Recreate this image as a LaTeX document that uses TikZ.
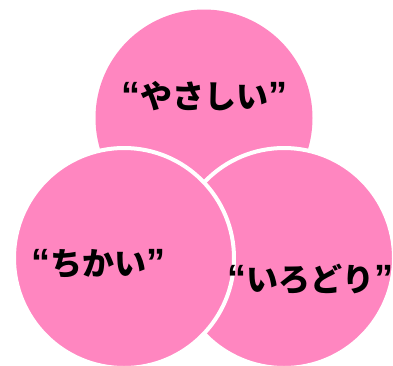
\documentclass[tikz,border=0pt]{standalone}
\usepackage{fontspec}
\newfontfamily\jp{Noto Sans CJK JP}
\newfontfamily\qf{Liberation Sans}
\definecolor{circpink}{RGB}{255,134,192}
\tikzset{
  circ/.style={circle, fill=circpink, inner sep=0pt, minimum size=#1},
  bordered/.style={draw=white, line width=4pt},
  lbl/.style={font=\jp\bfseries\fontsize{32}{36}\selectfont, text=black, inner sep=0pt}
}
\newcommand{\q}[1]{{\qf\bfseries\fontsize{38}{40}\selectfont “}#1{\qf\bfseries\fontsize{38}{40}\selectfont ”}}
\begin{document}
\begin{tikzpicture}[x=1pt,y=-1pt]
  \useasboundingbox (0,0) rectangle (393,365);
  \begin{scope}
  \clip (0,0) rectangle (393,365);
  \node[circ=217pt] (top) at (204,118) {};
  \node[circ=220pt, bordered] (right) at (284,258) {};
  \node[circ=220pt, bordered] (left) at (124,258) {};
  \end{scope}
  \node[lbl] (t1) at (204,96) {\q{やさしい}};
  \node[lbl] (t2) at (98,264) {\q{ちかい}};
  \node[lbl] (t3) at (310,279) {\q{いろどり}};
\end{tikzpicture}
\end{document}
